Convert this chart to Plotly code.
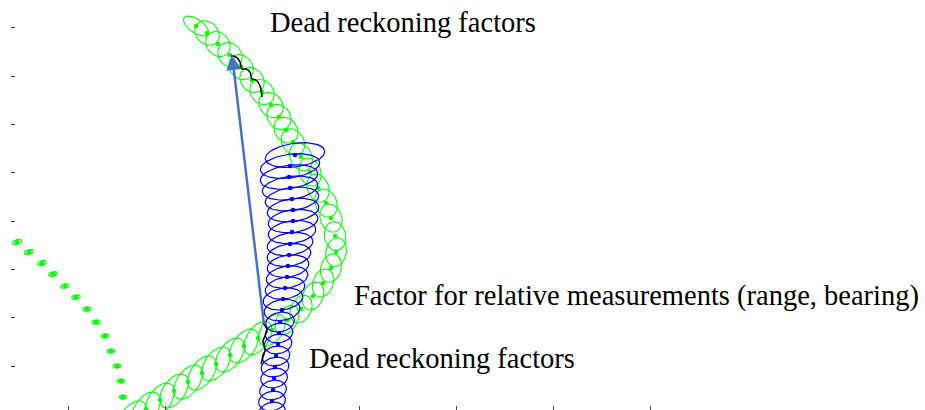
import numpy as np
import plotly.graph_objects as go

# ---------------- data ----------------
# left track with small covariance ellipses
track_x = [-6.49, -5.26, -4.02, -2.68, -1.55, -0.31, 0.82, 1.96, 2.89, 3.81, 4.43, 5.05, 5.46, 5.67]
track_y = [13.87, 12.84, 11.80, 10.66, 9.52, 8.28, 7.14, 5.90, 4.55, 3.11, 1.55, 0.00, -1.55, -3.21]
track_a = [0.52, 0.50, 0.49, 0.48, 0.47, 0.46, 0.45, 0.44, 0.43, 0.42, 0.41, 0.40, 0.39, 0.38]
track_b = [0.24, 0.24, 0.24, 0.24, 0.23, 0.23, 0.23, 0.23, 0.23, 0.22, 0.22, 0.22, 0.22, 0.22]
track_ang = [18, 17, 16, 15, 13, 11, 9, 7, 5, 4, 3, 2, 1, 0]

# green robot trajectory (poses with covariance ellipses)
green_x = [6.60, 8.04, 9.48, 10.93, 12.37, 13.81, 15.26, 16.70, 18.14, 19.59, 21.03,
           22.58, 24.02, 25.26, 26.29, 27.11, 27.63, 27.53, 27.11, 26.60, 25.77, 24.95,
           24.02, 23.19, 22.47, 21.75, 20.93, 20.00, 18.97, 17.84, 16.70, 15.46, 14.33, 13.20]
green_y = [-5.38, -4.45, -3.52, -2.59, -1.66, -0.72, 0.21, 1.14, 2.07, 2.90, 3.73,
           4.76, 5.90, 7.25, 8.59, 10.14, 11.80, 13.46, 15.32, 16.87, 18.43, 20.08,
           21.64, 23.19, 24.43, 25.78, 27.02, 28.36, 29.61, 30.95, 32.19, 33.33, 34.47, 35.20]
green_a = [2.00, 2.00, 2.00, 2.00, 2.00, 2.00, 2.00, 2.00, 2.00, 1.95, 1.85,
           1.65, 1.50, 1.50, 1.50, 1.50, 1.50, 1.50, 1.50, 1.50, 1.50, 1.50,
           1.50, 1.45, 1.42, 1.40, 1.40, 1.40, 1.40, 1.40, 1.40, 1.40, 1.40, 1.50]
green_b = [1.15, 1.15, 1.15, 1.15, 1.15, 1.15, 1.15, 1.15, 1.15, 1.12, 1.10,
           1.05, 1.05, 1.05, 1.05, 1.05, 1.05, 1.10, 1.10, 1.10, 1.10, 1.10,
           1.10, 1.12, 1.15, 1.15, 1.15, 1.15, 1.15, 1.15, 1.15, 1.15, 1.12, 0.70]
green_ang = [55, 55, 55, 55, 55, 55, 55, 55, 55, 55, 57,
             60, 65, 68, 70, 75, 80, 100, 110, 110, 110, 110,
             115, 120, 125, 128, 130, 130, 130, 130, 130, 130, 135, 145]

# blue robot trajectory
blue_x = [23.40, 22.89, 22.78, 22.89, 23.09, 23.20, 23.20, 23.09, 22.89, 22.78, 22.68, 22.58,
          22.37, 22.16, 22.06, 21.86, 21.75, 21.65, 21.44, 21.34, 21.24, 21.13, 21.03, 21.03]
blue_y = [21.84, 20.70, 19.57, 18.43, 17.29, 16.15, 15.01, 13.87, 12.63, 11.49, 10.35, 9.21,
          8.07, 6.94, 5.80, 4.55, 3.42, 2.28, 1.04, -0.10, -1.24, -2.48, -3.62, -4.76]
blue_a = [3.09, 3.09, 2.99, 2.89, 2.78, 2.68, 2.58, 2.47, 2.37, 2.27, 2.16, 2.16,
          2.06, 2.06, 1.86, 1.49, 1.44, 1.44, 1.44, 1.44, 1.39, 1.39, 1.39, 1.39]
blue_b = [1.22, 1.22, 1.21, 1.20, 1.19, 1.18, 1.17, 1.16, 1.15, 1.14, 1.13, 1.12,
          1.11, 1.10, 1.08, 1.00, 1.00, 1.00, 1.00, 1.00, 1.00, 1.00, 1.00, 1.00]
blue_ang = [8, 8, 8, 8, 8, 8, 8, 8, 9, 9, 9, 9, 10, 10, 10, 12, 12, 12, 12, 12, 12, 12, 12, 12]

# dead-reckoning factor curves (black)
dr_top_x = [16.80, 17.32, 17.73, 17.94, 18.35, 18.76, 18.97, 19.38, 19.79, 20.00]
dr_top_y = [32.09, 31.99, 31.47, 30.75, 30.75, 30.43, 29.71, 29.61, 28.99, 27.85]
dr_bot_x = [20.10, 20.52, 20.31, 20.10, 20.31, 20.10, 19.90]
dr_bot_y = [4.45, 3.73, 3.11, 2.59, 1.66, 0.93, 0.21]

# relative measurement arrow (from -> to)
arrow_from = (20.21, 4.24)
arrow_to = (16.91, 32.19)

x_ticks = [0, 10, 20, 30, 40, 50, 60]
y_ticks = [0, 5, 10, 15, 20, 25, 30, 35]

labels = ["Dead reckoning factors",
          "Factor for relative measurements (range, bearing)",
          "Dead reckoning factors"]


def ellipses(xs, ys, aa, bb, angs, n=72):
    ox, oy = [], []
    t = np.linspace(0, 2 * np.pi, n)
    for cx, cy, a, b, ang in zip(xs, ys, aa, bb, angs):
        th = np.radians(ang)
        ex = cx + a * np.cos(t) * np.cos(th) - b * np.sin(t) * np.sin(th)
        ey = cy + a * np.cos(t) * np.sin(th) + b * np.sin(t) * np.cos(th)
        ox += list(ex) + [None]
        oy += list(ey) + [None]
    return ox, oy


fig = go.Figure()

GREEN = "#00FF00"
BLUE = "#0000FF"

ex, ey = ellipses(track_x, track_y, track_a, track_b, track_ang)
fig.add_trace(go.Scatter(x=ex, y=ey, mode="lines", line=dict(color=GREEN, width=1.2), hoverinfo="skip"))
fig.add_trace(go.Scatter(x=track_x, y=track_y, mode="markers", marker=dict(color=GREEN, size=4.5)))

ex, ey = ellipses(green_x, green_y, green_a, green_b, green_ang)
fig.add_trace(go.Scatter(x=ex, y=ey, mode="lines", line=dict(color=GREEN, width=1.1), hoverinfo="skip"))
fig.add_trace(go.Scatter(x=green_x, y=green_y, mode="markers", marker=dict(color=GREEN, size=4.5)))

ex, ey = ellipses(blue_x, blue_y, blue_a, blue_b, blue_ang)
fig.add_trace(go.Scatter(x=ex, y=ey, mode="lines", line=dict(color=BLUE, width=1.2), hoverinfo="skip"))
fig.add_trace(go.Scatter(x=blue_x, y=blue_y, mode="markers", marker=dict(color=BLUE, size=4.5)))

fig.add_trace(go.Scatter(x=dr_top_x, y=dr_top_y, mode="lines",
                         line=dict(color="black", width=1.5, shape="spline")))
fig.add_trace(go.Scatter(x=dr_bot_x, y=dr_bot_y, mode="lines",
                         line=dict(color="black", width=1.5, shape="spline")))

fig.add_annotation(x=arrow_to[0], y=arrow_to[1], ax=arrow_from[0], ay=arrow_from[1],
                   xref="x", yref="y", axref="x", ayref="y", text="", showarrow=True,
                   arrowhead=2, arrowsize=1.2, arrowwidth=2.5, arrowcolor="#4472C4")

font = dict(family="Liberation Serif, Times New Roman, serif", size=28.5, color="black")
fig.add_annotation(x=20.62, y=35.6, xref="x", yref="y", text=labels[0], showarrow=False,
                   xanchor="left", yanchor="middle", font=font)
fig.add_annotation(x=29.28, y=7.25, xref="x", yref="y", text=labels[1], showarrow=False,
                   xanchor="left", yanchor="middle", font=font)
fig.add_annotation(x=24.65, y=0.83, xref="x", yref="y", text=labels[2], showarrow=False,
                   xanchor="left", yanchor="middle", font=font)

axis_common = dict(showgrid=False, zeroline=False, showline=False, ticks="inside",
                   ticklen=4, tickwidth=1, tickcolor="#444", showticklabels=False)
fig.update_xaxes(range=[-5.88, 88.35], tickvals=x_ticks, **axis_common)
fig.update_yaxes(range=[-4.55, 37.89], tickvals=y_ticks, **axis_common)

fig.update_layout(width=925, height=410, margin=dict(l=11, r=0, t=0, b=0),
                  paper_bgcolor="white", plot_bgcolor="white", showlegend=False)

fig.write_html("out.html", config={"displayModeBar": False},
               post_script="document.body.style.margin='0px';document.body.style.overflow='hidden';")
